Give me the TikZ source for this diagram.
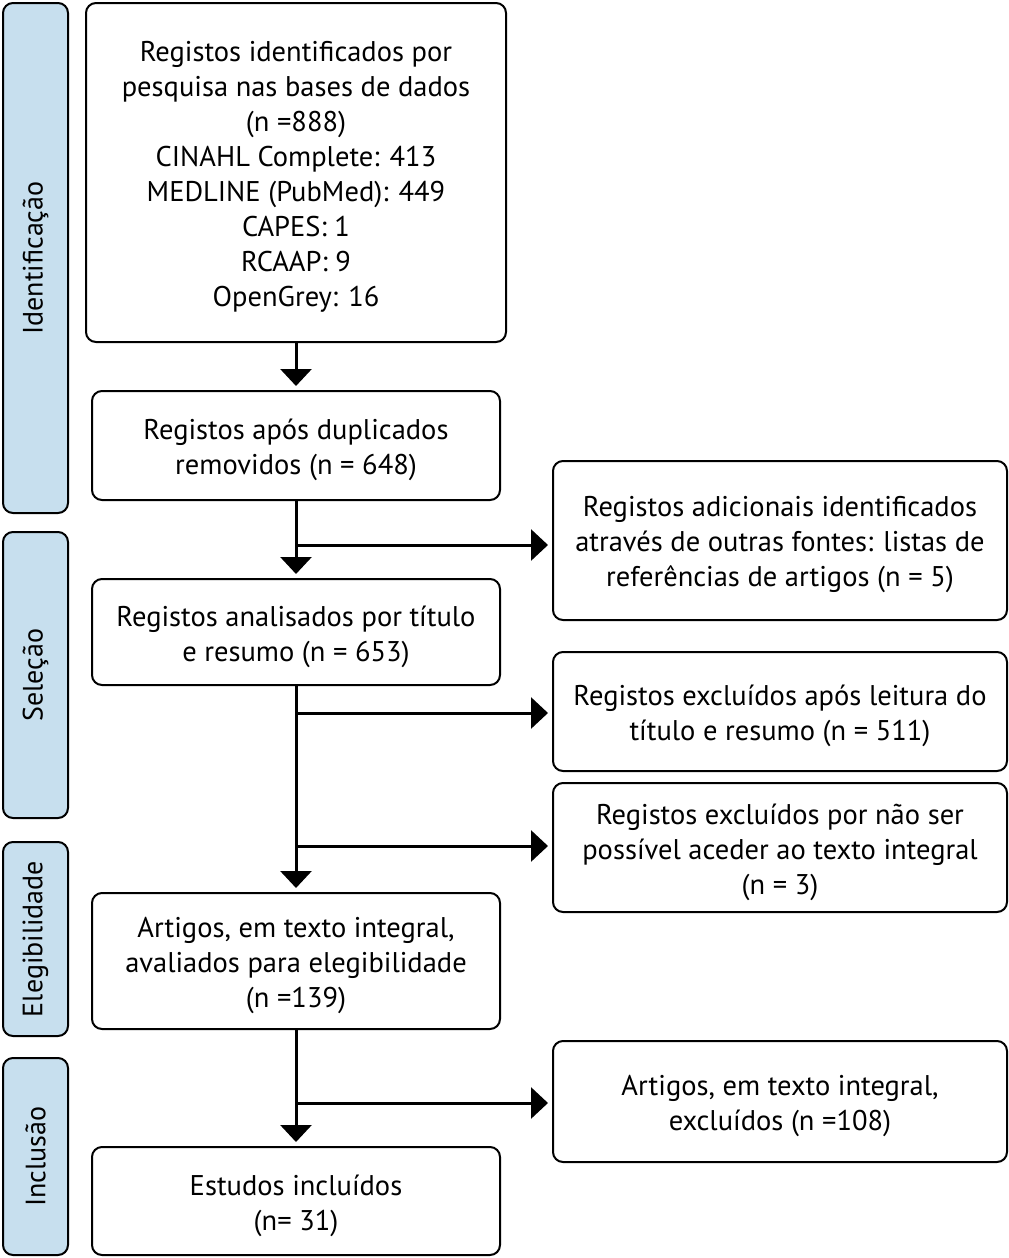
\documentclass[tikz,border=0pt]{standalone}
\usepackage{fontspec}
\setmainfont{PT Sans}
\usetikzlibrary{arrows.meta}
\definecolor{sideblue}{HTML}{C7DFEE}
\begin{document}
\begin{tikzpicture}[x=1pt,y=-1pt,
  box/.style={draw=black, line width=2pt, rounded corners=10pt, inner sep=0pt},
  txt/.style={align=center, inner sep=0pt, font=\fontsize{28.5}{35}\selectfont},
  side/.style={draw=black, fill=sideblue, line width=2pt, rounded corners=10pt, inner sep=0pt,
    font=\fontsize{28}{30}\selectfont},
  conn/.style={line width=3pt, -{Triangle[width=31pt,length=17pt]}, shorten >=4pt}]
\useasboundingbox (0,0) rectangle (1009,1258);
% side labels
\node[side, minimum width=510pt, minimum height=65pt, rotate=90] (s1) at (35.5,258) {Identificação};
\node[side, minimum width=286pt, minimum height=65pt, rotate=90] (s2) at (35.5,675) {Seleção};
\node[side, minimum width=194pt, minimum height=65pt, rotate=90] (s3) at (35.5,939) {Elegibilidade};
\node[side, minimum width=197pt, minimum height=65pt, rotate=90] (s4) at (35.5,1156.5) {Inclusão};
% main boxes
\node[box, minimum width=420pt, minimum height=339pt] (A) at (296,172.5) {};
\node[box, minimum width=408pt, minimum height=109pt] (B) at (296,445.5) {};
\node[box, minimum width=408pt, minimum height=106pt] (C) at (296,632) {};
\node[box, minimum width=408pt, minimum height=136pt] (D) at (296,961) {};
\node[box, minimum width=408pt, minimum height=108pt] (E) at (296,1201) {};
% right boxes
\node[box, minimum width=454pt, minimum height=159pt] (R1) at (780,540.5) {};
\node[box, minimum width=454pt, minimum height=119pt] (R2) at (780,711.5) {};
\node[box, minimum width=454pt, minimum height=129pt] (R3) at (780,847.5) {};
\node[box, minimum width=454pt, minimum height=121pt] (R4) at (780,1101.5) {};
% texts
\node[txt] (At) at ([yshift=-4.5pt]A.center) {Registos identificados por\\pesquisa nas bases de dados\\(n =888)\\CINAHL Complete: 413\\MEDLINE (PubMed): 449\\CAPES: 1\\RCAAP: 9\\OpenGrey: 16};
\node[txt] (Bt) at ([yshift=-4.5pt]B.center) {Registos após duplicados\\removidos (n = 648)};
\node[txt] (Ct) at ([yshift=-4.5pt]C.center) {Registos analisados por título\\e resumo (n = 653)};
\node[txt] (Dt) at ([yshift=-4.5pt]D.center) {Artigos, em texto integral,\\avaliados para elegibilidade\\(n =139)};
\node[txt] (Et) at ([yshift=-4.5pt]E.center) {Estudos incluídos\\(n= 31)};
\node[txt] (R1t) at ([yshift=-4pt]R1.center) {Registos adicionais identificados\\através de outras fontes: listas de\\referências de artigos (n = 5)};
\node[txt] (R2t) at ([yshift=-4.5pt]R2.center) {Registos excluídos após leitura do\\título e resumo (n = 511)};
\node[txt] (R3t) at ([yshift=-4.5pt]R3.center) {Registos excluídos por não ser\\possível aceder ao texto integral\\(n = 3)};
\node[txt] (R4t) at ([yshift=-4.5pt]R4.center) {Artigos, em texto integral,\\excluídos (n =108)};
% branch points
\coordinate (b1) at (296,545);
\coordinate (b2) at (296,713);
\coordinate (b3) at (296,846);
\coordinate (b4) at (296,1103);
% connectors
\draw[conn] (A.south) -- (B.north);
\draw[conn] (B.south) -- (C.north);
\draw[conn] (C.south) -- (D.north);
\draw[conn] (D.south) -- (E.north);
\draw[conn] (b1) -- (b1 -| R1.west);
\draw[conn] (b2) -- (b2 -| R2.west);
\draw[conn] (b3) -- (b3 -| R3.west);
\draw[conn] (b4) -- (b4 -| R4.west);
\end{tikzpicture}
\end{document}
